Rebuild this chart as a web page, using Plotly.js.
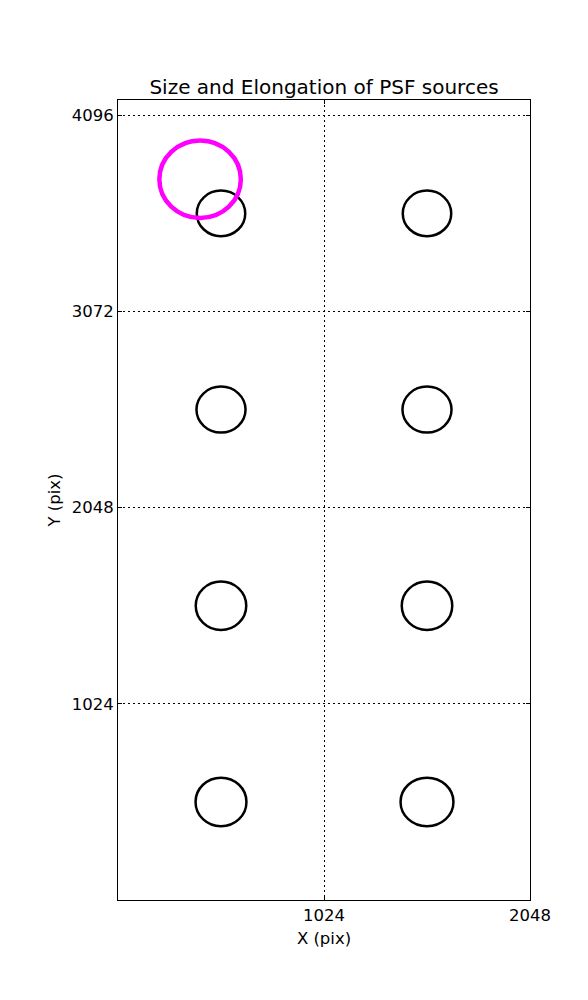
<!DOCTYPE html>
<html>
<head>
<meta charset="utf-8">
<script src="https://cdn.plot.ly/plotly-3.0.1.min.js"></script>
<style>html,body{margin:0;padding:0;background:#fff;}</style>
</head>
<body>
<div id="chart" style="width:588px;height:1000px;"></div>
<script>
// Source centres (pix)
const srcX = [512, 1536, 512, 1536, 512, 1536, 512, 1536];
const srcY = [3584, 3584, 2560, 2560, 1536, 1536, 512, 512];
// Ellipse full sizes (data units)
const srcW = [241, 241, 244, 244, 251, 251, 253, 263];
const srcH = [238, 238, 240, 240, 253, 253, 253, 253];
// Reference (scale) ellipse
const refX = [408];
const refY = [3762];
const refW = [405];
const refH = [405];

const xTicks = [1024, 2048];
const yTicks = [1024, 2048, 3072, 4096];

const shapes = [];
for (let i = 0; i < srcX.length; i++) {
  shapes.push({type:'circle', xref:'x', yref:'y', layer:'above',
    x0: srcX[i]-srcW[i]/2, x1: srcX[i]+srcW[i]/2,
    y0: srcY[i]-srcH[i]/2, y1: srcY[i]+srcH[i]/2,
    line:{color:'#000000', width:2.5}});
}
for (let i = 0; i < refX.length; i++) {
  shapes.push({type:'circle', xref:'x', yref:'y', layer:'above',
    x0: refX[i]-refW[i]/2, x1: refX[i]+refW[i]/2,
    y0: refY[i]-refH[i]/2, y1: refY[i]+refH[i]/2,
    line:{color:'#ff00ff', width:4.5}});
}

const font = {family:'DejaVu Sans', size:16.5, color:'#000'};
const layout = {
  width:588, height:1000,
  margin:{l:118, r:58, t:100, b:100},
  paper_bgcolor:'#fff', plot_bgcolor:'#fff',
  showlegend:false,
  title:{text:'Size and Elongation of PSF sources', font:{family:'DejaVu Sans', size:20, color:'#000'},
         x:0.5, xanchor:'center', y:1-87/1000, yanchor:'middle', xref:'paper'},
  xaxis:{range:[0,2048], tickvals:xTicks, ticktext:xTicks.map(String), showgrid:true,
    gridcolor:'#000', griddash:'2px,3px', gridwidth:1, zeroline:false,
    showline:true, linecolor:'#000', linewidth:1, mirror:'ticks',
    ticks:'inside', ticklen:4, tickcolor:'#000', tickfont:font,
    title:{text:'X (pix)', font:font, standoff:8}},
  yaxis:{range:[0,4176], tickvals:yTicks, ticktext:yTicks.map(String), showgrid:true,
    gridcolor:'#000', griddash:'2px,3px', gridwidth:1, zeroline:false,
    showline:true, linecolor:'#000', linewidth:1, mirror:'ticks',
    ticks:'inside', ticklen:4, tickcolor:'#000', tickfont:font,
    title:{text:'Y (pix)', font:font, standoff:6}},
  shapes: shapes
};
const traces = [{x:srcX, y:srcY, type:'scatter', mode:'markers', marker:{opacity:0}, hoverinfo:'skip'}];
Plotly.newPlot('chart', traces, layout, {staticPlot:true, displayModeBar:false});
</script>
</body>
</html>
